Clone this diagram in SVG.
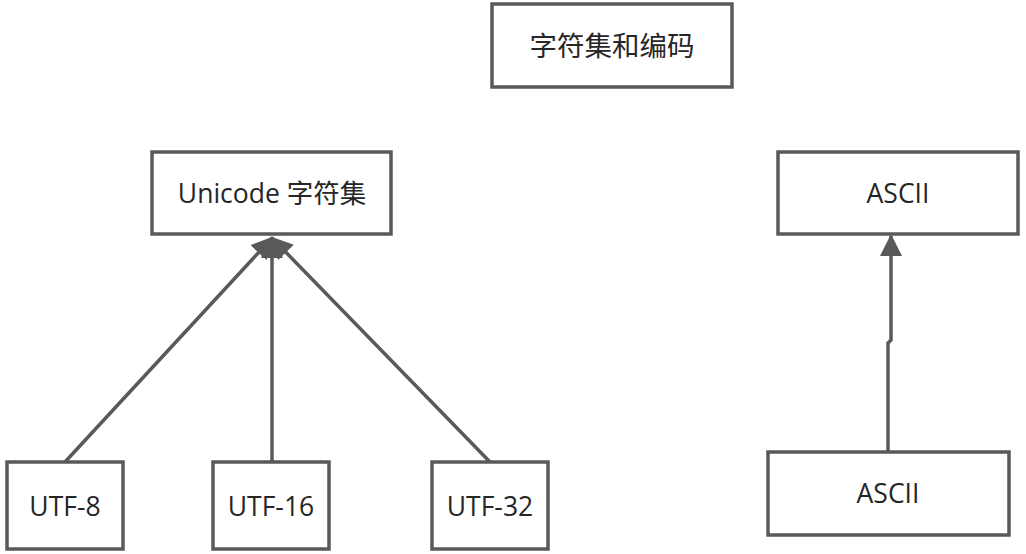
<svg xmlns="http://www.w3.org/2000/svg" width="1026" height="554" viewBox="0 0 1026 554">
<style>
.box{fill:#fff;stroke:#595959;stroke-width:3.5}
.t{font-family:"Open Sans","Noto Sans CJK SC",sans-serif;font-size:26.5px;fill:#262626;text-anchor:middle;dominant-baseline:central}
.c{fill:none;stroke:#595959;stroke-width:3.5}
</style>
<defs>
<marker id="ah2" markerWidth="22" markerHeight="22" refX="20" refY="11" orient="auto" markerUnits="userSpaceOnUse" viewBox="0 0 22 22">
<path d="M0,0 L22,11 L0,22 Z" fill="#595959"/>
</marker>
</defs>
<rect width="1026" height="554" fill="#fff"/>
<g id="connectors">
<path class="c" d="M65,462 L272,238" marker-end="url(#ah2)"/>
<path class="c" d="M272,462 L272,238" marker-end="url(#ah2)"/>
<path class="c" d="M490,462 L272,238" marker-end="url(#ah2)"/>
<path class="c" d="M888,452 L888,343 L891,340 L891,236" marker-end="url(#ah2)"/>
</g>
<g id="title"><rect class="box" x="492" y="4" width="240" height="83"/><text class="t" x="612" y="45" style="font-size:27.5px">字符集和编码</text></g>
<g id="unicode"><rect class="box" x="152" y="152" width="239" height="82"/><text class="t" x="272" y="193">Unicode 字符集</text></g>
<g id="ascii-top"><rect class="box" x="778" y="152" width="240" height="82"/><text class="t" x="898" y="193">ASCII</text></g>
<g id="utf8"><rect class="box" x="7" y="462" width="116" height="87"/><text class="t" x="65" y="506">UTF-8</text></g>
<g id="utf16"><rect class="box" x="213" y="462" width="116" height="87"/><text class="t" x="271" y="506">UTF-16</text></g>
<g id="utf32"><rect class="box" x="432" y="462" width="116" height="87"/><text class="t" x="490" y="506">UTF-32</text></g>
<g id="ascii-bottom"><rect class="box" x="768" y="452" width="241" height="83"/><text class="t" x="888" y="493">ASCII</text></g>
</svg>
